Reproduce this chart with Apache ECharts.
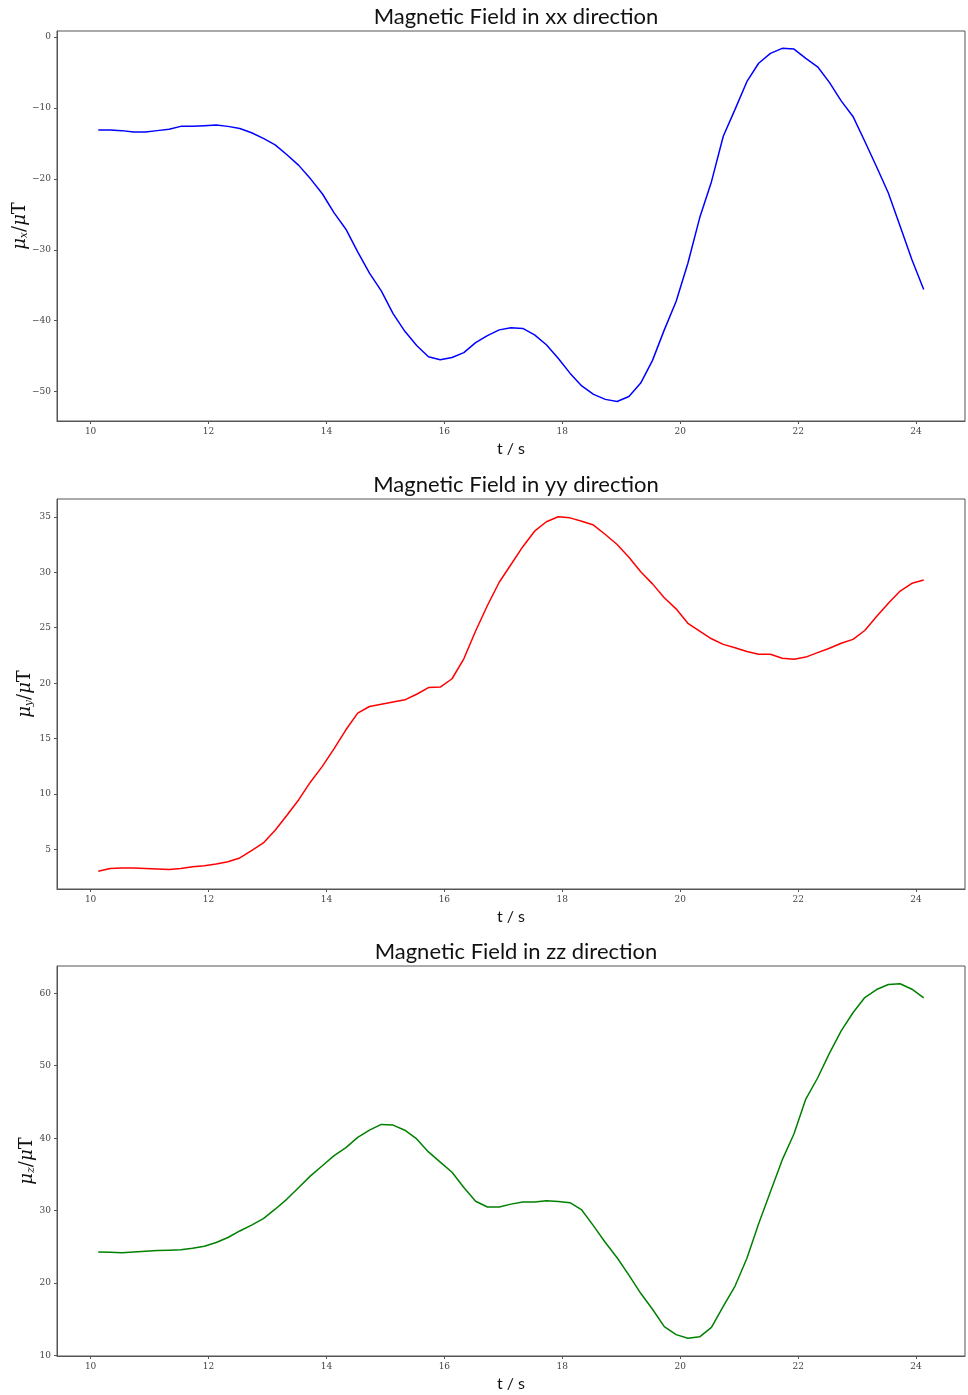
<!DOCTYPE html>
<html>
<head>
<meta charset="utf-8">
<script src="https://cdn.jsdelivr.net/npm/echarts@6/dist/echarts.min.js"></script>
<style>html,body{margin:0;padding:0;background:#fff;}#c{width:968px;height:1395px;}</style>
</head>
<body>
<div id="c"></div>
<script>
const time = [10.13,10.33,10.53,10.73,10.93,11.13,11.33,11.53,11.73,11.93,12.13,12.33,12.53,12.73,12.93,13.13,13.33,13.53,13.73,13.93,14.13,14.33,14.53,14.73,14.93,15.13,15.33,15.53,15.73,15.93,16.13,16.33,16.53,16.73,16.93,17.13,17.33,17.53,17.73,17.93,18.13,18.33,18.53,18.73,18.93,19.13,19.33,19.53,19.73,19.93,20.13,20.33,20.53,20.73,20.93,21.13,21.33,21.53,21.73,21.93,22.13,22.33,22.53,22.73,22.93,23.13,23.33,23.53,23.73,23.93,24.13];
const bx = [-13.1,-13.1,-13.2,-13.4,-13.4,-13.2,-13.0,-12.6,-12.6,-12.5,-12.4,-12.6,-12.9,-13.5,-14.3,-15.2,-16.6,-18.1,-20.0,-22.1,-24.8,-27.1,-30.3,-33.3,-35.8,-39.0,-41.5,-43.5,-45.1,-45.5,-45.2,-44.5,-43.1,-42.1,-41.3,-41.0,-41.1,-42.0,-43.4,-45.3,-47.4,-49.2,-50.4,-51.1,-51.4,-50.7,-48.8,-45.6,-41.3,-37.3,-31.9,-25.5,-20.4,-14.0,-10.2,-6.3,-3.7,-2.3,-1.6,-1.7,-3.0,-4.2,-6.4,-9.0,-11.2,-14.7,-18.3,-22.0,-26.7,-31.4,-35.6];
const by = [3.05,3.3,3.35,3.35,3.3,3.25,3.2,3.3,3.45,3.55,3.7,3.9,4.25,4.9,5.6,6.75,8.1,9.5,11.1,12.5,14.1,15.8,17.3,17.9,18.1,18.3,18.5,19.0,19.6,19.65,20.4,22.2,24.7,27.0,29.1,30.7,32.3,33.7,34.55,35.0,34.9,34.6,34.25,33.4,32.5,31.35,30.05,28.95,27.7,26.7,25.4,24.7,24.0,23.5,23.2,22.85,22.6,22.6,22.25,22.15,22.35,22.75,23.15,23.6,23.95,24.75,26.0,27.2,28.3,29.0,29.3];
const bz = [24.3,24.25,24.2,24.3,24.4,24.5,24.55,24.6,24.8,25.1,25.6,26.3,27.2,28.0,28.9,30.2,31.6,33.2,34.8,36.2,37.6,38.7,40.1,41.1,41.9,41.8,41.1,39.9,38.1,36.7,35.3,33.2,31.3,30.5,30.5,30.9,31.2,31.2,31.35,31.25,31.1,30.1,27.9,25.6,23.5,21.1,18.6,16.4,14.0,12.9,12.4,12.6,13.9,16.8,19.6,23.4,28.2,32.6,37.0,40.6,45.4,48.3,51.7,54.8,57.3,59.4,60.5,61.2,61.3,60.55,59.35];
const xTicks = [10,12,14,16,18,20,22,24];
const yTicksX = [-50,-40,-30,-20,-10,0];
const yTicksY = [5,10,15,20,25,30,35];
const yTicksZ = [10,20,30,40,50,60];
const titles = ['Magnetic Field in xx direction','Magnetic Field in yy direction','Magnetic Field in zz direction'];
const subs = ['x','y','z'];
const colors = ['#0000ff','#ff0000','#008000'];
const yRanges = [[-54.15,0.85],[1.45,36.6],[9.95,63.75]];
const yTicks = [yTicksX,yTicksY,yTicksZ];
const series = [bx,by,bz];

const gridTops = [31,499,966];
const gridH = 390;
const nameGaps = [27,22,20];
const tickFont = {fontFamily:'DejaVu Serif',fontSize:9,color:'#444'};
const option = {
  animation:false,
  backgroundColor:'#fff',
  title: titles.map((t,i)=>({
    text:t, left:511, top:gridTops[i]-30, textAlign:'center',
    textStyle:{fontFamily:'Lato',fontWeight:'normal',fontSize:22,color:'#111'}
  })),
  grid: gridTops.map(top=>({left:57,right:3,top:top,height:gridH,show:true,borderColor:'#555',borderWidth:1,backgroundColor:'transparent',containLabel:false,outerBoundsMode:'none'})),
  xAxis: [0,1,2].map(i=>({
    type:'value', gridIndex:i, min:9.43, max:24.83,
    name:'t / s', nameLocation:'middle', nameGap:20,
    nameTextStyle:{fontFamily:'Lato',fontSize:16,color:'#111'},
    axisLine:{show:true,onZero:false,lineStyle:{color:'#555',width:1}},
    axisTick:{show:true,length:3,customValues:xTicks,lineStyle:{color:'#555'}},
    axisLabel:Object.assign({customValues:xTicks,margin:6,formatter:v=>String(v)},tickFont),
    splitLine:{show:false}
  })),
  yAxis: [0,1,2].map(i=>({
    type:'value', gridIndex:i, min:yRanges[i][0], max:yRanges[i][1],
    name:'{m|μ}{s|'+subs[i]+'}{n|/}{m|μ}{n|T}', nameLocation:'middle', nameRotate:90, nameGap:nameGaps[i],
    nameMoveOverlap:false,
    nameTextStyle:{rich:{
      m:{fontFamily:'DejaVu Serif',fontStyle:'italic',fontSize:18,color:'#111'},
      s:{fontFamily:'DejaVu Serif',fontStyle:'italic',fontSize:11,color:'#111',padding:[8,0,0,0]},
      n:{fontFamily:'DejaVu Serif',fontSize:18,color:'#111'}
    }},
    axisLine:{show:true,onZero:false,lineStyle:{color:'#555',width:1}},
    axisTick:{show:true,length:3,customValues:yTicks[i],lineStyle:{color:'#555'}},
    axisLabel:Object.assign({customValues:yTicks[i],margin:6,formatter:v=>String(v).replace('-','\u2212')},tickFont),
    splitLine:{show:false}
  })),
  series: series.map((d,i)=>({
    type:'line', xAxisIndex:i, yAxisIndex:i, showSymbol:false, symbol:'none',
    lineStyle:{color:colors[i],width:1.5},
    data: time.map((t,k)=>[t,d[k]])
  }))
};
echarts.init(document.getElementById('c')).setOption(option);
</script>
</body>
</html>
